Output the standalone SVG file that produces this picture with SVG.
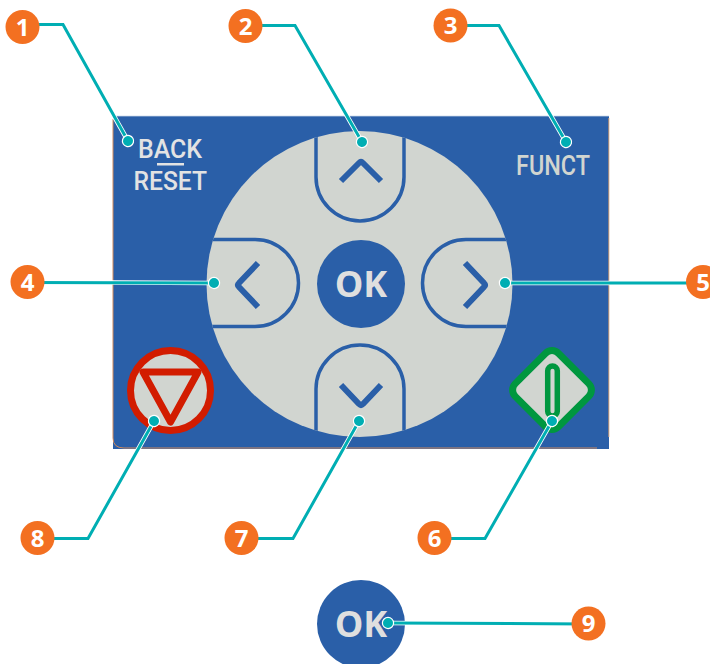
<svg xmlns="http://www.w3.org/2000/svg" width="710" height="664" viewBox="0 0 710 664">
<defs>
<clipPath id="pad"><circle cx="359.500" cy="284" r="153"/></clipPath>
<marker id="dot" markerUnits="userSpaceOnUse" markerWidth="14" markerHeight="14" refX="7" refY="7" orient="auto"><circle cx="7" cy="7" r="5.600" fill="#00aeb3" stroke="#fff" stroke-width="1.200"/></marker>
</defs>
<style>
.btn{fill:none;stroke:#2a5fa8;stroke-width:3.500}
.chev{fill:none;stroke:#2a5fa8;stroke-width:6;stroke-linejoin:round}
.casing{fill:none;stroke:#fff;stroke-width:4.600}
.lead{fill:none;stroke:#00aeb3;stroke-width:3}
.badge{fill:#f37021}
.num{font-family:"Open Sans","Noto Sans",sans-serif;font-weight:700;font-size:24px;fill:#fff;text-anchor:middle}
.ok{font-family:"Open Sans","Noto Sans",sans-serif;font-weight:700;font-size:36px;fill:#dfdfdf;text-anchor:middle}
.din{font-family:"Roboto","Liberation Sans",sans-serif;font-size:26px;font-weight:500;fill:#e3e3e3}
</style>
<g id="panel">
<rect x="113" y="116" width="496" height="333" fill="#2a5fa8"/>
<path d="M113 119V438Q113 448 124 448H597" fill="none" stroke="#d08a5c" stroke-width="1"/>
<path d="M608.800 118V437" fill="none" stroke="#c69a78" stroke-width="1"/>
<path d="M113 116.300H609" fill="none" stroke="#8aa8d0" stroke-width="0.800"/>
</g>
<g id="dial">
<circle cx="359.500" cy="284" r="153" fill="#d1d5d0"/>
</g>
<g id="btn-up" clip-path="url(#pad)">
<path class="btn" d="M316 125V177A44 44 0 0 0 404 177V125"/>
<path class="chev" d="M341 181L359 163Q361 161 363 163L381 181"/>
</g>
<g id="btn-left" clip-path="url(#pad)">
<path class="btn" d="M200 239.500H255A43.500 43.500 0 0 1 255 326.500H200"/>
<path class="chev" d="M258 263L239 283Q237 285 239 287L258 307"/>
</g>
<g id="btn-right" clip-path="url(#pad)">
<path class="btn" d="M520 239.500H466A43.500 43.500 0 0 0 466 326.500H520"/>
<path class="chev" d="M465 263L484 283Q486 285 484 287L465 307"/>
</g>
<g id="btn-down" clip-path="url(#pad)">
<path class="btn" d="M316 440V389A44 44 0 0 1 404 389V440"/>
<path class="chev" d="M341 385L359 404Q361 406 363 404L381 385"/>
</g>
<g id="btn-ok">
<circle cx="361" cy="284" r="44" fill="#2a5fa8"/>
<text class="ok" x="361" y="296.500">OK</text>
</g>
<g id="btn-stop">
<circle cx="170.500" cy="390.500" r="40" fill="#d1d5d0" stroke="#d21c00" stroke-width="7"/>
<path d="M143 372H198L170.500 422Z" fill="none" stroke="#d21c00" stroke-width="7" stroke-linejoin="round"/>
</g>
<g id="btn-start">
<rect x="521.500" y="359.500" width="61" height="61" rx="9" transform="rotate(45 552 390)" fill="#d1d5d0" stroke="#00973f" stroke-width="7"/>
<rect x="547.700" y="366" width="9.600" height="50" rx="4.800" fill="#d1d5d0" stroke="#00973f" stroke-width="5.500"/>
</g>
<g id="label-back">
<text class="din" x="138" y="158" textLength="64" lengthAdjust="spacingAndGlyphs">BACK</text>
<rect x="157" y="163" width="27" height="2.500" fill="#e3e3e3"/>
<text class="din" x="133.500" y="190" textLength="73.500" lengthAdjust="spacingAndGlyphs">RESET</text>
</g>
<g id="label-funct">
<text class="din" x="516" y="175" textLength="74" lengthAdjust="spacingAndGlyphs" style="fill:#d1d5d0;font-size:28px">FUNCT</text>
</g>
<g id="ok-large">
<circle cx="361" cy="624" r="44" fill="#2a5fa8"/>
<text class="ok" x="361" y="636.500">OK</text>
</g>
<g id="connectors">
<path class="casing" d="M22 25.500H63L128 141"/>
<path class="casing" d="M245 26H295L362 142"/>
<path class="casing" d="M450 26H499L566 142"/>
<path class="casing" d="M27 282L214 283"/>
<path class="casing" d="M702 283H505"/>
<path class="casing" d="M434 538.500H485L552 421"/>
<path class="casing" d="M241 538.500H293L359 421"/>
<path class="casing" d="M37 538.500H88L154 421"/>
<path class="casing" d="M588 624L388 623"/>
<path class="lead" d="M22 24.500H63L128 141" marker-end="url(#dot)"/>
<path class="lead" d="M245 25.500H295L362 142" marker-end="url(#dot)"/>
<path class="lead" d="M450 25.500H499L566 142" marker-end="url(#dot)"/>
<path class="lead" d="M27 282.500L214 283" marker-end="url(#dot)"/>
<path class="lead" d="M702 283H505" marker-end="url(#dot)"/>
<path class="lead" d="M434 538.500H485L552 421" marker-end="url(#dot)"/>
<path class="lead" d="M241 538.500H293L359 421" marker-end="url(#dot)"/>
<path class="lead" d="M37 538.500H88L154 421" marker-end="url(#dot)"/>
<path class="lead" d="M588 624L388 623" marker-end="url(#dot)"/>
</g>
<g id="badge-1"><circle class="badge" cx="22.500" cy="27" r="17"/><text class="num" x="22.500" y="35.500">1</text></g>
<g id="badge-2"><circle class="badge" cx="245.500" cy="26" r="17"/><text class="num" x="245.500" y="34.500">2</text></g>
<g id="badge-3"><circle class="badge" cx="450.500" cy="25.500" r="17"/><text class="num" x="450.500" y="34">3</text></g>
<g id="badge-4"><circle class="badge" cx="27.500" cy="282" r="17"/><text class="num" x="27.500" y="290.500">4</text></g>
<g id="badge-5"><circle class="badge" cx="703" cy="282" r="17"/><text class="num" x="703" y="290.500">5</text></g>
<g id="badge-6"><circle class="badge" cx="434.500" cy="538" r="17"/><text class="num" x="434.500" y="546.500">6</text></g>
<g id="badge-7"><circle class="badge" cx="241.500" cy="538" r="17"/><text class="num" x="241.500" y="546.500">7</text></g>
<g id="badge-8"><circle class="badge" cx="37.500" cy="538" r="17"/><text class="num" x="37.500" y="546.500">8</text></g>
<g id="badge-9"><circle class="badge" cx="588.500" cy="623.500" r="17"/><text class="num" x="588.500" y="632">9</text></g>
</svg>
